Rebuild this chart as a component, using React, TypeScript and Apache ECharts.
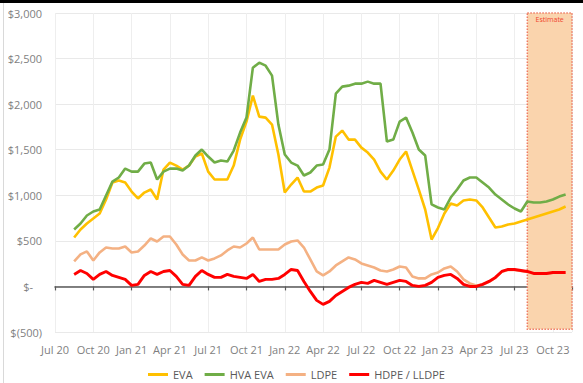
import React, { useEffect, useRef } from "react";
import * as echarts from "echarts";

// Semi-monthly price observations
const dates = [
  "2020-08-16", "2020-09-01", "2020-09-16", "2020-10-01", "2020-10-16", "2020-11-01", "2020-11-16", "2020-12-01", "2020-12-16",
  "2021-01-01", "2021-01-16", "2021-02-01", "2021-02-16", "2021-03-01", "2021-03-16", "2021-04-01", "2021-04-16", "2021-05-01",
  "2021-05-16", "2021-06-01", "2021-06-16", "2021-07-01", "2021-07-16", "2021-08-01", "2021-08-16", "2021-09-01", "2021-09-16",
  "2021-10-01", "2021-10-16", "2021-11-01", "2021-11-16", "2021-12-01", "2021-12-16", "2022-01-01", "2022-01-16", "2022-02-01",
  "2022-02-16", "2022-03-01", "2022-03-16", "2022-04-01", "2022-04-16", "2022-05-01", "2022-05-16", "2022-06-01", "2022-06-16",
  "2022-07-01", "2022-07-16", "2022-08-01", "2022-08-16", "2022-09-01", "2022-09-16", "2022-10-01", "2022-10-16", "2022-11-01",
  "2022-11-16", "2022-12-01", "2022-12-16", "2023-01-01", "2023-01-16", "2023-02-01", "2023-02-16", "2023-03-01", "2023-03-16",
  "2023-04-01", "2023-04-16", "2023-05-01", "2023-05-16", "2023-06-01", "2023-06-16", "2023-07-01", "2023-07-16", "2023-08-01",
  "2023-08-16", "2023-09-01", "2023-09-16", "2023-10-01", "2023-10-16", "2023-11-01",
];

const eva = [
  537, 625, 690, 745, 800, 954, 1140, 1162, 1140,
  1041, 965, 1030, 1063, 954, 1282, 1359, 1326, 1282,
  1326, 1425, 1458, 1260, 1173, 1173, 1173, 1326, 1611,
  1808, 2093, 1863, 1852, 1776, 1447, 1030, 1118, 1195,
  1041, 1041, 1085, 1107, 1304, 1644, 1710, 1611, 1611,
  1523, 1469, 1392, 1260, 1173, 1271, 1392, 1480, 1271,
  1063, 844, 515, 640, 800, 910, 888, 943, 954,
  943, 866, 756, 647, 657, 680, 690, 712, 734,
  756, 778, 800, 822, 844, 877,
];

const hvaEva = [
  625, 690, 778, 822, 844, 997, 1150, 1195, 1293,
  1260, 1260, 1348, 1359, 1173, 1260, 1293, 1293, 1271,
  1326, 1436, 1502, 1425, 1359, 1381, 1370, 1491, 1688,
  1852, 2400, 2455, 2422, 2313, 1776, 1447, 1359, 1326,
  1217, 1250, 1326, 1337, 1502, 2115, 2192, 2203, 2225,
  2225, 2247, 2225, 2225, 1589, 1611, 1808, 1852, 1688,
  1502, 1436, 900, 866, 844, 975, 1063, 1162, 1195,
  1195, 1140, 1085, 1008, 954, 899, 855, 822, 932,
  921, 921, 932, 954, 986, 1008,
];

const ldpe = [
  274, 351, 384, 285, 373, 427, 416, 416, 438,
  373, 384, 449, 526, 493, 548, 548, 460, 351,
  285, 285, 318, 285, 307, 340, 395, 438, 427,
  471, 537, 405, 405, 405, 405, 460, 493, 504,
  427, 296, 164, 121, 164, 230, 274, 318, 296,
  252, 230, 208, 175, 164, 186, 219, 208, 110,
  88, 88, 132, 153, 197, 219, 164, 77, 33,
  11, 22, 50, 95, 160, 180, 180, 170, 160,
  140, 140, 140, 150, 150, 150,
];

const hdpeLldpe = [
  132, 175, 142, 77, 132, 164, 121, 99, 77,
  11, 22, 121, 164, 132, 164, 175, 110, 22,
  11, 110, 175, 132, 99, 99, 132, 110, 99,
  88, 132, 55, 77, 77, 88, 132, 186, 175,
  55, -55, -153, -197, -164, -99, -55, -11, 22,
  44, 33, 66, 44, 22, 44, 66, 55, 11,
  0, 11, 44, 99, 121, 132, 88, 22, 0,
  0, 22, 55, 99, 164, 186, 186, 175, 164,
  142, 142, 142, 153, 153, 153,
];

const quarterLabels = [
  "Jul 20", "Oct 20", "Jan 21", "Apr 21", "Jul 21", "Oct 21", "Jan 22",
  "Apr 22", "Jul 22", "Oct 22", "Jan 23", "Apr 23", "Jul 23", "Oct 23",
];

const axisStart = "2020-07-01";
const axisEnd = "2023-11-16";
const estimateStart = "2023-08-01";

const seriesNames = ["EVA", "HVA EVA", "LDPE", "HDPE / LLDPE"];
const seriesColors = ["#FFC000", "#70AD47", "#F4B183", "#FF0000"];
const seriesWidths = [2.6, 2.6, 2.6, 2.9];

// Months elapsed since the start of the axis (Jul 2020)
function monthIndex(d: string): number {
  const [y, m, day] = d.split("-").map(Number);
  return (y - 2020) * 12 + (m - 7) + (day - 1) / 30;
}

const FONT = "Open Sans";
const LABEL_COLOR = "#7F7F7F";

export default function App() {
  const ref = useRef<HTMLDivElement>(null);

  useEffect(() => {
    if (!ref.current) return;
    const chart = echarts.init(ref.current, null, { renderer: "svg" });
    const xMin = monthIndex(axisStart);
    const xMax = monthIndex(axisEnd);
    const values = [eva, hvaEva, ldpe, hdpeLldpe];

    const series = seriesNames.map((name, k) => ({
      name,
      type: "line",
      xAxisIndex: 0,
      yAxisIndex: 0,
      showSymbol: false,
      symbol: "none",
      lineStyle: { width: seriesWidths[k], color: seriesColors[k] },
      itemStyle: { color: seriesColors[k] },
      data: dates.map((d, i) => [monthIndex(d), values[k][i]]),
      ...(k === 0
        ? {
            markArea: {
              silent: true,
              itemStyle: {
                color: "#FAD4AD",
                borderColor: "#EE7B64",
                borderWidth: 1.5,
                borderType: "dotted",
              },
              label: {
                show: true,
                position: "insideTop",
                distance: 4,
                color: "#F0442C",
                fontSize: 7,
                fontFamily: FONT,
              },
              data: [
                [
                  { name: "Estimate", xAxis: monthIndex(estimateStart), yAxis: 3000 },
                  { xAxis: xMax, yAxis: -470 },
                ],
              ],
            },
          }
        : {}),
    }));

    chart.setOption({
      animation: false,
      backgroundColor: "#ffffff",
      grid: { left: 55, right: 11, top: 13, bottom: 51, containLabel: false },
      legend: {
        data: seriesNames,
        top: 364,
        left: 143,
        icon: "rect",
        itemWidth: 20,
        itemHeight: 3,
        itemGap: 12,
        textStyle: { fontSize: 11, color: "#595959", fontFamily: FONT },
      },
      xAxis: [
        {
          type: "value",
          min: xMin,
          max: xMax,
          interval: 3,
          position: "bottom",
          axisLine: { show: false, onZero: false },
          axisTick: { show: false },
          axisLabel: {
            margin: 12,
            color: LABEL_COLOR,
            fontSize: 11,
            fontFamily: FONT,
            showMaxLabel: false,
            formatter: (v: number) => {
              const q = Math.round(v / 3);
              return Math.abs(v - q * 3) < 1e-6 && quarterLabels[q] ? quarterLabels[q] : "";
            },
          },
          splitLine: { show: true, lineStyle: { color: "#EEEEEE", width: 1 } },
        },
        {
          type: "value",
          min: xMin,
          max: xMax,
          interval: 3,
          position: "bottom",
          axisLine: { show: true, onZero: true, lineStyle: { color: "#595959", width: 1.5 } },
          axisTick: { show: true, length: 4, lineStyle: { color: "#595959", width: 1.2 } },
          axisLabel: { show: false },
          splitLine: { show: false },
        },
      ],
      yAxis: {
        type: "value",
        min: -500,
        max: 3000,
        interval: 500,
        axisLine: { show: false },
        axisTick: { show: false },
        splitLine: { show: true, lineStyle: { color: "#E9E9E9", width: 1 } },
        axisLabel: {
          margin: 13,
          color: LABEL_COLOR,
          fontSize: 11,
          fontFamily: FONT,
          formatter: (v: number) => {
            if (v === 0) return "{pad|$-}";
            if (v < 0) return "$(" + Math.abs(v).toLocaleString("en-US") + ")";
            return "$" + v.toLocaleString("en-US");
          },
          rich: {
            pad: { fontSize: 11, color: LABEL_COLOR, fontFamily: FONT, padding: [0, 9, 0, 0] },
          },
        },
      },
      graphic: [
        { type: "rect", left: 0, top: 0, shape: { width: 583, height: 3 }, style: { fill: "#000000" } },
        {
          type: "line",
          shape: { x1: 3.5, y1: 3, x2: 3.5, y2: 383 },
          style: { stroke: "#D9D9D9", lineWidth: 1 },
        },
      ],
      series,
    });

    return () => chart.dispose();
  }, []);

  return (
    <div
      ref={ref}
      style={{ position: "absolute", left: 0, top: 0, width: 583, height: 383, background: "#fff" }}
    />
  );
}
